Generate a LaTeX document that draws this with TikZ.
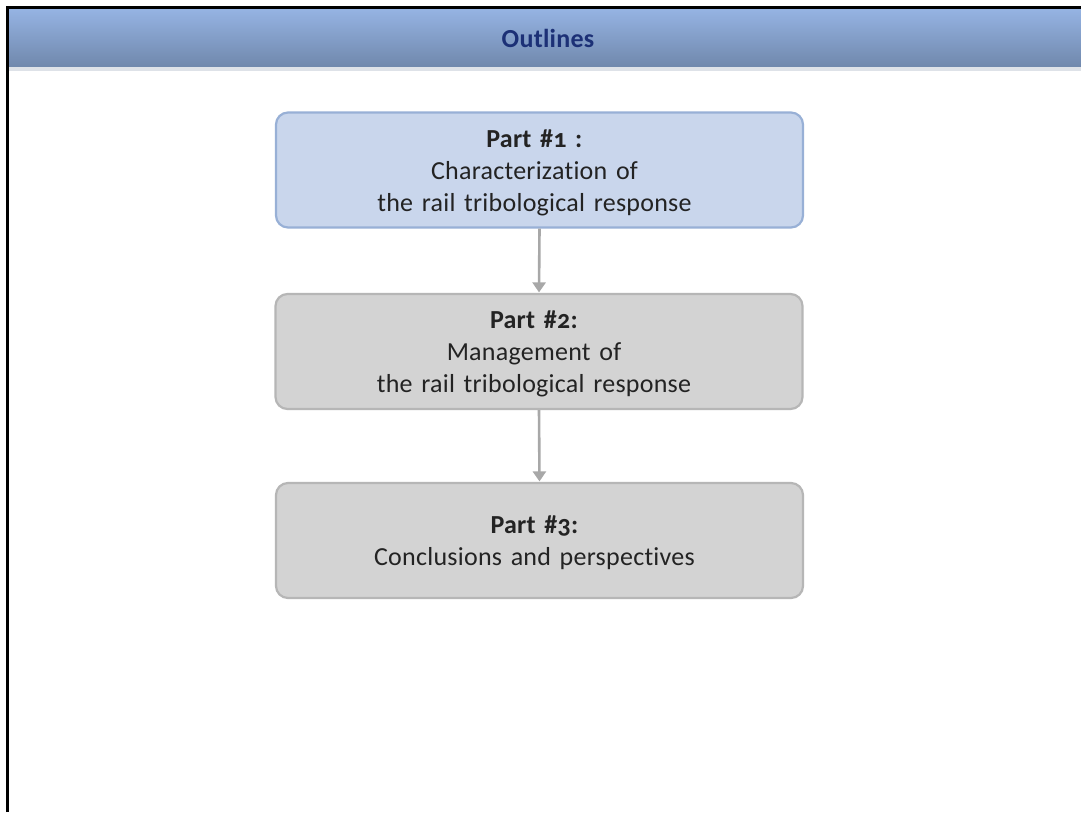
\documentclass[tikz,border=0pt]{standalone}
\usepackage{fontspec}
\setmainfont{Carlito}[Numbers=OldStyle, Ligatures=NoCommon, LetterSpace=1]
\usetikzlibrary{arrows.meta}
\definecolor{hdrtop}{RGB}{150,180,228}
\definecolor{hdrbot}{RGB}{112,136,172}
\definecolor{hdrline}{RGB}{222,226,232}
\definecolor{titleblue}{RGB}{28,48,118}
\definecolor{bluefill}{RGB}{201,214,236}
\definecolor{blueedge}{RGB}{152,176,214}
\definecolor{grayfill}{RGB}{211,211,211}
\definecolor{grayedge}{RGB}{182,182,182}
\definecolor{arrowgray}{RGB}{168,168,168}
\definecolor{txt}{RGB}{35,35,35}
\tikzset{
  partbox/.style={rounded corners=12pt, line width=2.2pt, minimum width=527pt, minimum height=115pt, inner sep=0pt},
  parttext/.style={text width=510pt, align=center, font=\fontsize{26}{32}\selectfont, text=txt,
    inner sep=0pt, xshift=-5pt, yshift=-2.5pt},
  bluebox/.style={partbox, fill=bluefill, draw=blueedge},
  graybox/.style={partbox, fill=grayfill, draw=grayedge},
  flow/.style={draw=arrowgray, line width=2.6pt, -{Triangle[length=10pt,width=13pt]}, shorten >=0.5pt}
}
\begin{document}
\begin{tikzpicture}[x=1pt,y=-1pt]
\useasboundingbox (0,0) rectangle (1081,812);
\fill[white] (0,0) rectangle (1081,812);
\shade[top color=hdrtop, bottom color=hdrbot] (8,8) rectangle (1081,67);
\fill[hdrline] (8,67) rectangle (1081,71);
\draw[black, line width=2.6pt] (7.3,812) -- (7.3,7.3) -- (1081,7.3);
\node[font=\fontsize{26}{30}\selectfont\bfseries, text=titleblue, inner sep=0pt] (title) at (548,38) {Outlines};
\node[bluebox, label={[parttext]center:{\textbf{Part \#1 :}\\Characterization of\\the rail tribological response}}] (p1) at (539.5,170) {};
\node[graybox, label={[parttext]center:{\textbf{Part \#2:}\\Management of\\the rail tribological response}}] (p2) at (539,351.5) {};
\node[graybox, label={[parttext]center:{\textbf{Part \#3:}\\Conclusions and perspectives}}] (p3) at (539.5,540.5) {};
\draw[flow] (p1.south) -- (p2.north);
\draw[flow] (p2.south) -- (p3.north);
\end{tikzpicture}
\end{document}
